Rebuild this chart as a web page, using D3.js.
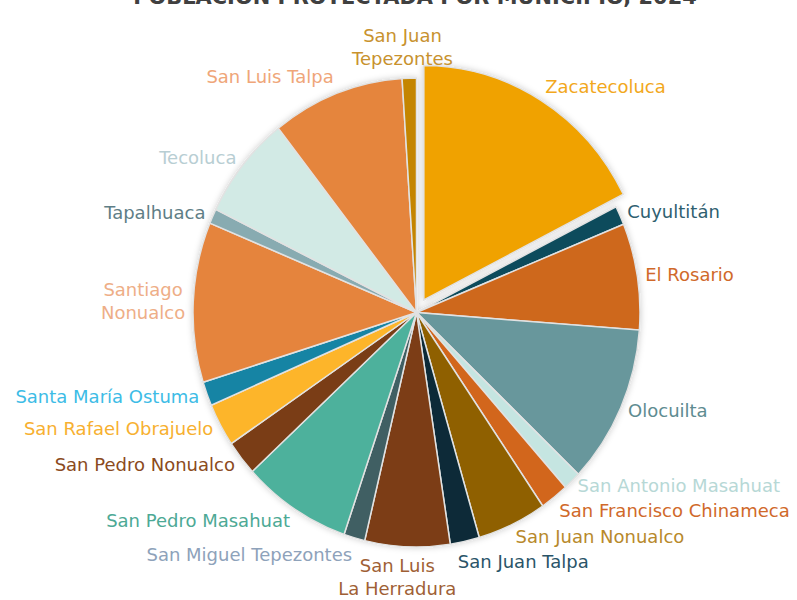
<!DOCTYPE html>
<html>
<head>
<meta charset="utf-8">
<script src="https://cdn.jsdelivr.net/npm/d3@7"></script>
<style>
  body { margin: 0; background: #fff; }
  text { font-family: 'DejaVu Sans', sans-serif; }
</style>
</head>
<body>
<svg width="797" height="600"></svg>
<script>
const title = 'POBLACIÓN PROYECTADA POR MUNICIPIO, 2024';

const municipios = [
  'Zacatecoluca', 'Cuyultitán', 'El Rosario', 'Olocuilta', 'San Antonio Masahuat',
  'San Francisco Chinameca', 'San Juan Nonualco', 'San Juan Talpa', 'San Luis La Herradura',
  'San Miguel Tepezontes', 'San Pedro Masahuat', 'San Pedro Nonualco', 'San Rafael Obrajuelo',
  'Santa María Ostuma', 'Santiago Nonualco', 'Tapalhuaca', 'Tecoluca', 'San Luis Talpa',
  'San Juan Tepezontes'
];
// (approximate)
const poblacion = [
  63200, 4700, 26400, 39300, 4600,
  7400, 18100, 7600, 22100,
  5500, 28400, 8700, 10700,
  6000, 39700, 3700, 25700, 34500,
  3700
];
const sliceColors = [
  '#f0a202', '#0f4c5c', '#ce671d', '#67979c', '#c5e5e1',
  '#d2661e', '#8f6102', '#082b38', '#7c3e13',
  '#3f5f63', '#4eb19c', '#7a3d12', '#fdb52b',
  '#1884a4', '#e5843c', '#88abb1', '#d2eae5', '#e5853c',
  '#c48501'
];
const labelColors = [
  '#f2a81c', '#2f5f70', '#d0692a', '#5e8c91', '#b7d8d6',
  '#d0692a', '#b8892b', '#2a5468', '#a05f35',
  '#8ea2ba', '#4da995', '#8b4a20', '#f7b030',
  '#3dbce6', '#eeae87', '#5f7e86', '#b8ced3', '#efa679',
  '#c8922e'
];
const lineBreaks = {
  'San Juan Tepezontes': ['San Juan', 'Tepezontes'],
  'San Luis La Herradura': ['San Luis', 'La Herradura'],
  'Santiago Nonualco': ['Santiago', 'Nonualco']
};
const exploded = ['Zacatecoluca'];

const cx = 416.5, cy = 312.5, rx = 223.5, ry = 234.5;
const explode = 14, gap = 8, lh = 23, fontSize = 18;

const svg = d3.select('svg');
const filter = svg.append('defs').append('filter')
  .attr('id', 'shadow')
  .attr('x', '-10%').attr('y', '-10%').attr('width', '120%').attr('height', '120%');
filter.append('feDropShadow')
  .attr('dx', 0).attr('dy', 0)
  .attr('stdDeviation', 3)
  .attr('flood-color', '#000')
  .attr('flood-opacity', 0.2);

// title (cut off at the top, as in the picture)
const t = svg.append('text')
  .attr('x', 415).attr('y', 4)
  .attr('text-anchor', 'middle')
  .attr('font-weight', 'bold')
  .attr('fill', '#404040')
  .attr('font-size', 20)
  .text(title);
t.attr('font-size', 20 * 564 / t.node().getComputedTextLength());

const data = municipios.map((m, i) => ({
  name: m, value: poblacion[i], color: sliceColors[i], labelColor: labelColors[i]
}));
const arcs = d3.pie().sort(null).value(d => d.value)(data);
const arc = d3.arc().innerRadius(0).outerRadius(rx);
const mid = d => (d.startAngle + d.endAngle) / 2;
const off = d => exploded.includes(d.data.name) ? explode : 0;

const g = svg.append('g')
  .attr('transform', `translate(${cx},${cy}) scale(1,${ry / rx})`)
  .attr('filter', 'url(#shadow)');
g.selectAll('path')
  .data(arcs)
  .join('path')
  .attr('transform', d => off(d) ? `translate(${off(d) * Math.sin(mid(d))},${-off(d) * Math.cos(mid(d))})` : null)
  .attr('d', arc)
  .attr('fill', d => d.data.color)
  .attr('stroke', '#e2e2e2')
  .attr('stroke-width', 1.5)
  .attr('vector-effect', 'non-scaling-stroke');

// labels
const clamp = v => Math.max(-1, Math.min(1, v));
const lg = svg.append('g');
const labels = arcs.map(d => {
  const a = mid(d), s = Math.sin(a), c = Math.cos(a);
  const lines = lineBreaks[d.data.name] || [d.data.name];
  const txt = lg.append('text')
    .attr('font-size', fontSize)
    .attr('fill', d.data.labelColor)
    .attr('text-anchor', 'middle');
  lines.forEach(l => txt.append('tspan').text(l));
  const ws = txt.selectAll('tspan').nodes().map(n => n.getComputedTextLength());
  const w = d3.max(ws);
  const h = lines.length * lh;
  const px = cx + (rx + gap + off(d)) * s;
  const py = cy - (ry + gap + off(d) * ry / rx) * c;
  const hs = clamp(s * 4), vs = Math.sign(c) * Math.pow(Math.abs(c), 4);
  return { txt, ws, w, h, left: px - w * (1 - hs) / 2, top: py - h * (1 + vs) / 2 };
});

// line boxes of a label, for the overlap check
const boxes = l => l.ws.map((w, i) => ({
  x0: l.left + (l.w - w) / 2, x1: l.left + (l.w + w) / 2,
  y0: l.top + i * lh, y1: l.top + (i + 1) * lh
}));

// push overlapping labels apart vertically
const pad = 2;
for (let it = 0; it < 200; it++) {
  let moved = false;
  for (let i = 0; i < labels.length; i++) {
    for (let j = i + 1; j < labels.length; j++) {
      const a = labels[i], b = labels[j];
      let ov = 0;
      boxes(a).forEach(p => boxes(b).forEach(q => {
        if (p.x0 >= q.x1 || q.x0 >= p.x1) return;
        ov = Math.max(ov, Math.min(p.y1, q.y1) - Math.max(p.y0, q.y0) + pad);
      }));
      if (ov > 0.5) {
        const [up, dn] = a.top < b.top ? [a, b] : [b, a];
        up.top -= ov / 2;
        dn.top += ov / 2;
        moved = true;
      }
    }
  }
  if (!moved) break;
}

labels.forEach(l => {
  l.txt.selectAll('tspan')
    .attr('x', l.left + l.w / 2)
    .attr('y', (_, i) => l.top + i * lh + lh * 0.76);
});
</script>
</body>
</html>
